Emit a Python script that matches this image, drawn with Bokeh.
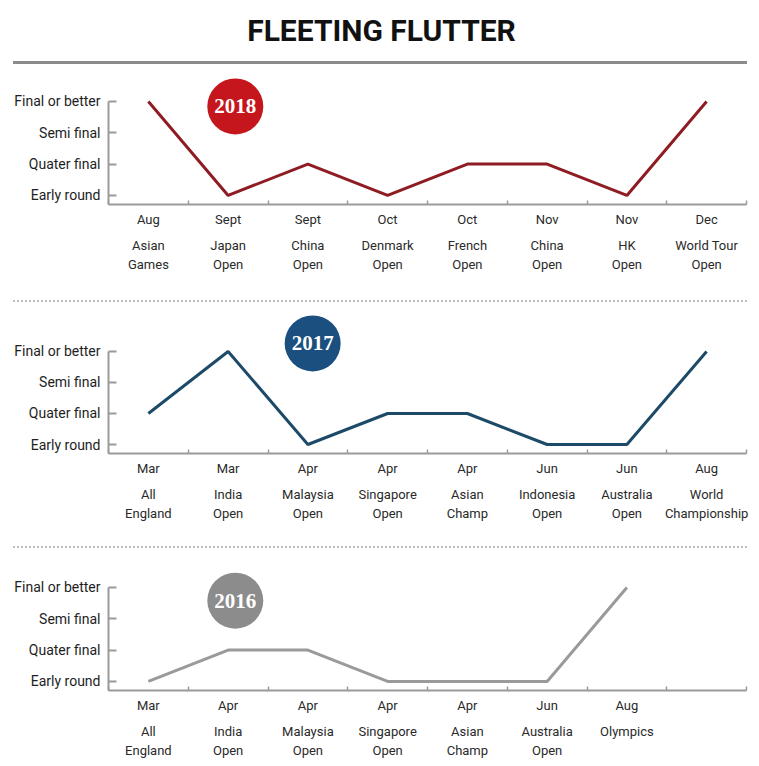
from bokeh.plotting import figure
from bokeh.layouts import column
from bokeh.models import Range1d, LinearAxis, FixedTicker, Label, Div
from bokeh.core.properties import value
from bokeh.embed import file_html
from bokeh.resources import INLINE

title_text = "FLEETING FLUTTER"
stages = ["Early round", "Quater final", "Semi final", "Final or better"]

months_2018 = ["Aug", "Sept", "Sept", "Oct", "Oct", "Nov", "Nov", "Dec"]
events_2018 = ["Asian\nGames", "Japan\nOpen", "China\nOpen", "Denmark\nOpen",
               "French\nOpen", "China\nOpen", "HK\nOpen", "World Tour\nOpen"]
result_2018 = [3, 0, 1, 0, 1, 1, 0, 3]

months_2017 = ["Mar", "Mar", "Apr", "Apr", "Apr", "Jun", "Jun", "Aug"]
events_2017 = ["All\nEngland", "India\nOpen", "Malaysia\nOpen", "Singapore\nOpen",
               "Asian\nChamp", "Indonesia\nOpen", "Australia\nOpen", "World\nChampionship"]
result_2017 = [1, 3, 0, 1, 1, 0, 0, 3]

months_2016 = ["Mar", "Apr", "Apr", "Apr", "Apr", "Jun", "Aug"]
events_2016 = ["All\nEngland", "India\nOpen", "Malaysia\nOpen", "Singapore\nOpen",
               "Asian\nChamp", "Australia\nOpen", "Olympics"]
result_2016 = [0, 1, 1, 0, 0, 0, 3]

SLOTS = 8
W = 759
AXIS_GREY = "#9a9a9a"
LABEL_FONT = "Roboto"


def strip(p):
    p.xgrid.visible = False
    p.ygrid.visible = False
    p.outline_line_color = None
    p.background_fill_color = "white"
    p.border_fill_color = "white"


def header():
    # frame is aligned with the panels below (108 .. 746 px)
    p = figure(width=W, height=52, x_range=Range1d(108, 746), y_range=Range1d(0, 52),
               output_backend="svg", toolbar_location=None, title=None,
               x_axis_type=None, y_axis_type=None,
               min_border_left=108, min_border_right=13, min_border_top=0, min_border_bottom=0)
    strip(p)
    p.add_layout(Label(x=381, y=22, text=title_text, text_align="center", text_baseline="middle",
                       text_font="Roboto", text_font_style="bold",
                       text_font_size="30px", text_color="#111111"))
    return p


def rule(height, css):
    return Div(width=W, height=height, margin=0,
               text='<div style="margin-left:13px;width:734px;%s"></div>' % css)


def panel(months, events, results, color, year, badge_color, bx, by, y_end, height, bottom):
    y_start = -0.29
    p = figure(width=W, height=height, x_range=Range1d(0, SLOTS), y_range=Range1d(y_start, y_end),
               output_backend="svg", toolbar_location=None, title=None,
               x_axis_type=None, y_axis_type=None,
               min_border_left=108, min_border_right=13, min_border_top=0, min_border_bottom=bottom)
    strip(p)
    centers = [i + 0.5 for i in range(len(months))]

    yax = LinearAxis(ticker=FixedTicker(ticks=list(range(len(stages)))),
                     major_label_overrides={i: s for i, s in enumerate(stages)},
                     bounds=(y_start, len(stages) - 1))
    yax.axis_line_color = AXIS_GREY
    yax.axis_line_width = 2
    yax.major_tick_line_color = AXIS_GREY
    yax.major_tick_line_width = 2
    yax.major_tick_in = 8
    yax.major_tick_out = 0
    yax.minor_tick_line_color = None
    yax.major_label_standoff = 8
    yax.major_label_text_font = LABEL_FONT
    yax.major_label_text_font_size = "14px"
    yax.major_label_text_color = "#1e1e1e"
    p.add_layout(yax, "left")

    max_ = LinearAxis(ticker=FixedTicker(ticks=centers, minor_ticks=list(range(SLOTS + 1))),
                      major_label_overrides={c: m for c, m in zip(centers, months)})
    max_.axis_line_color = AXIS_GREY
    max_.axis_line_width = 2
    max_.major_tick_line_color = None
    max_.major_tick_in = 0
    max_.major_tick_out = 0
    max_.minor_tick_line_color = AXIS_GREY
    max_.minor_tick_line_width = 1.5
    max_.minor_tick_in = 4
    max_.minor_tick_out = 0
    max_.major_label_standoff = 7
    max_.major_label_text_font = LABEL_FONT
    max_.major_label_text_font_size = "13px"
    max_.major_label_text_color = "#2a2a2a"
    p.add_layout(max_, "below")

    eax = LinearAxis(ticker=FixedTicker(ticks=centers),
                     major_label_overrides={c: e for c, e in zip(centers, events)})
    eax.axis_line_color = None
    eax.major_tick_line_color = None
    eax.minor_tick_line_color = None
    eax.major_tick_in = 0
    eax.major_tick_out = 0
    eax.major_label_standoff = 8
    eax.major_label_text_font = LABEL_FONT
    eax.major_label_text_font_size = "13px"
    eax.major_label_text_color = "#2a2a2a"
    eax.major_label_text_line_height = 1.32
    p.add_layout(eax, "below")

    p.line(centers, results, line_color=color, line_width=3)
    p.scatter([bx], [by], size=56, marker="circle", fill_color=badge_color, line_color=None)
    p.text([bx], [by], [str(year)], text_align="center", text_baseline="middle",
           text_font=value("Liberation Serif"), text_font_style="bold",
           text_font_size="21px", text_color="white")
    return p


# header 0-52, rule 52-64, p1 64-290, sep 290-310, p2 310-536, sep 536-556, p3 556-766
p1 = panel(months_2018, events_2018, result_2018, "#8e1c22", 2018, "#c4161c",
           1.59, 2.84, 4.18, 226, 86)
p2 = panel(months_2017, events_2017, result_2017, "#1d4a68", 2017, "#1b4f7f",
           2.56, 3.26, 4.32, 226, 83)
p3 = panel(months_2016, events_2016, result_2016, "#9a9a9a", 2016, "#8c8c8c",
           1.59, 2.58, 3.99, 210, 76)

SEP = "height:8px;border-bottom:2px dotted #bcbcbc"

layout = column(
    header(),
    rule(12, "height:6px;border-bottom:3px solid #8a8a8a"),
    p1,
    rule(20, SEP),
    p2,
    rule(20, SEP),
    p3,
    spacing=0,
)

open("out.html", "w").write(file_html(layout, INLINE))
